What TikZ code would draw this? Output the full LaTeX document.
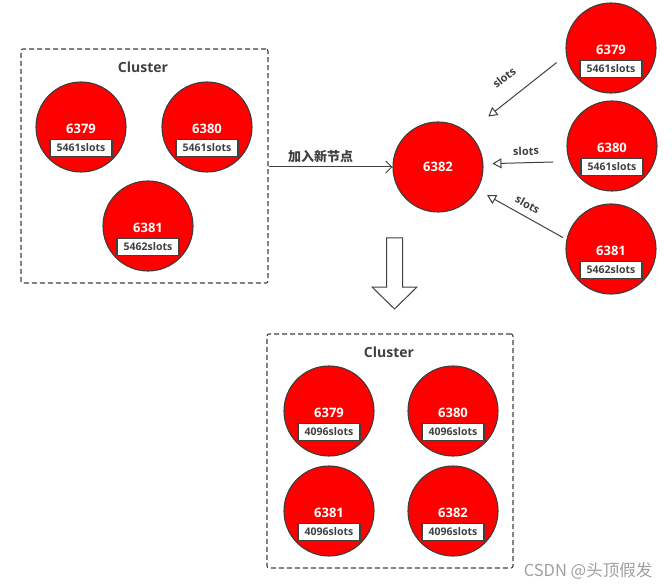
\documentclass[tikz,border=0pt]{standalone}
\usepackage{fontspec}
\setmainfont{Open Sans}
\newfontfamily\cjk{Noto Sans CJK SC}
\usepackage{tikz}
\usetikzlibrary{arrows.meta}
\definecolor{redisred}{HTML}{FF0000}
\definecolor{ringgray}{HTML}{3C3C3C}
\definecolor{inkgray}{HTML}{404040}
\colorlet{markgray}{gray!75}
\tikzset{
  redisnode/.style={circle,fill=redisred,draw=ringgray,line width=1.1pt,minimum size=90pt,inner sep=0pt},
  porttext/.style={text=white,inner sep=0pt,font=\bfseries\fontsize{13}{13}\selectfont},
  slotbox/.style={draw=inkgray,line width=1.1pt,fill=white,minimum width=62pt,minimum height=17pt,inner sep=0pt,text=inkgray,font=\bfseries\fontsize{10.5}{10.5}\selectfont},
  clusterbox/.style={draw=inkgray,line width=1.1pt,dash pattern=on 5pt off 3pt,rounded corners=2pt},
  clustertitle/.style={text=inkgray,font=\bfseries\fontsize{14}{14}\selectfont},
  slotsarrow/.style={draw=inkgray,line width=1pt,{Triangle[open,length=9pt,width=10pt]}-},
  slotslabel/.style={text=inkgray,midway,sloped,above=6pt,inner sep=1pt,font=\bfseries\fontsize{11}{11}\selectfont}
}
\newcommand{\redisslot}[5]{%
  \node[redisnode] (#1) at (#2,#3) {};
  \node[porttext] (#1port) at ([yshift=-2pt]#1.center) {#4};
  \node[slotbox] (#1slot) at ([yshift=-21pt]#1.center) {#5};}

\begin{document}
\begin{tikzpicture}[x=1pt,y=-1pt]
\useasboundingbox (0,0) rectangle (672,588);
% ---- old cluster: three masters ----
\node[clusterbox,minimum width=247pt,minimum height=234pt] (clusterA) at (144.5,166) {};
\node[clustertitle] (titleA) at (143,67) {Cluster};
\redisslot{a79}{81}{127}{6379}{5461slots}
\redisslot{a80}{207}{127}{6380}{5461slots}
\redisslot{a81}{148}{226}{6381}{5462slots}
% ---- new node 6382 ----
\node[redisnode,text=white,font=\bfseries\fontsize{13}{13}\selectfont] (n82) at (438,167) {6382};
\draw[draw=inkgray,line width=1pt,-{Straight Barb[length=6pt,width=12pt]}] (clusterA.east |- n82) -- (n82.west)
  node[pos=0.42,above,inner sep=4pt,text=inkgray,font=\cjk\bfseries\fontsize{13}{13}\selectfont] (joinlabel) {加入新节点};
% ---- masters hand over slots ----
\redisslot{r79}{611}{48}{6379}{5461slots}
\redisslot{r80}{612}{146}{6380}{5461slots}
\redisslot{r81}{611}{249}{6381}{5462slots}
\draw[slotsarrow,shorten <=26pt,shorten >=12pt] (n82.49) -- (r79.189) node[slotslabel,above=9pt] {slots};
\draw[slotsarrow,shorten <=9pt,shorten >=16pt] (n82.4) -- (r80.200) node[slotslabel] {slots};
\draw[slotsarrow,shorten <=11pt,shorten >=4pt] (n82.-30) -- (r81.168) node[slotslabel] {slots};
% ---- hollow down arrow ----
\draw[draw=inkgray,line width=1pt,fill=white] (386.5,238) -- (402.5,238) -- (402.5,287) -- (417,287)
  -- (394.5,309) -- (372,287) -- (386.5,287) -- cycle;
% ---- new cluster: four masters ----
\node[clusterbox,minimum width=246pt,minimum height=234pt] (clusterB) at (390,451) {};
\node[clustertitle] (titleB) at (389,352) {Cluster};
\redisslot{b79}{329}{411}{6379}{4096slots}
\redisslot{b80}{453}{411}{6380}{4096slots}
\redisslot{b81}{329}{511}{6381}{4096slots}
\redisslot{b82}{453}{511}{6382}{4096slots}
\node[text=markgray,font=\cjk\fontsize{16.5}{16.5}\selectfont] (mark) at (588,571) {CSDN @头顶假发};
\end{tikzpicture}
\end{document}
